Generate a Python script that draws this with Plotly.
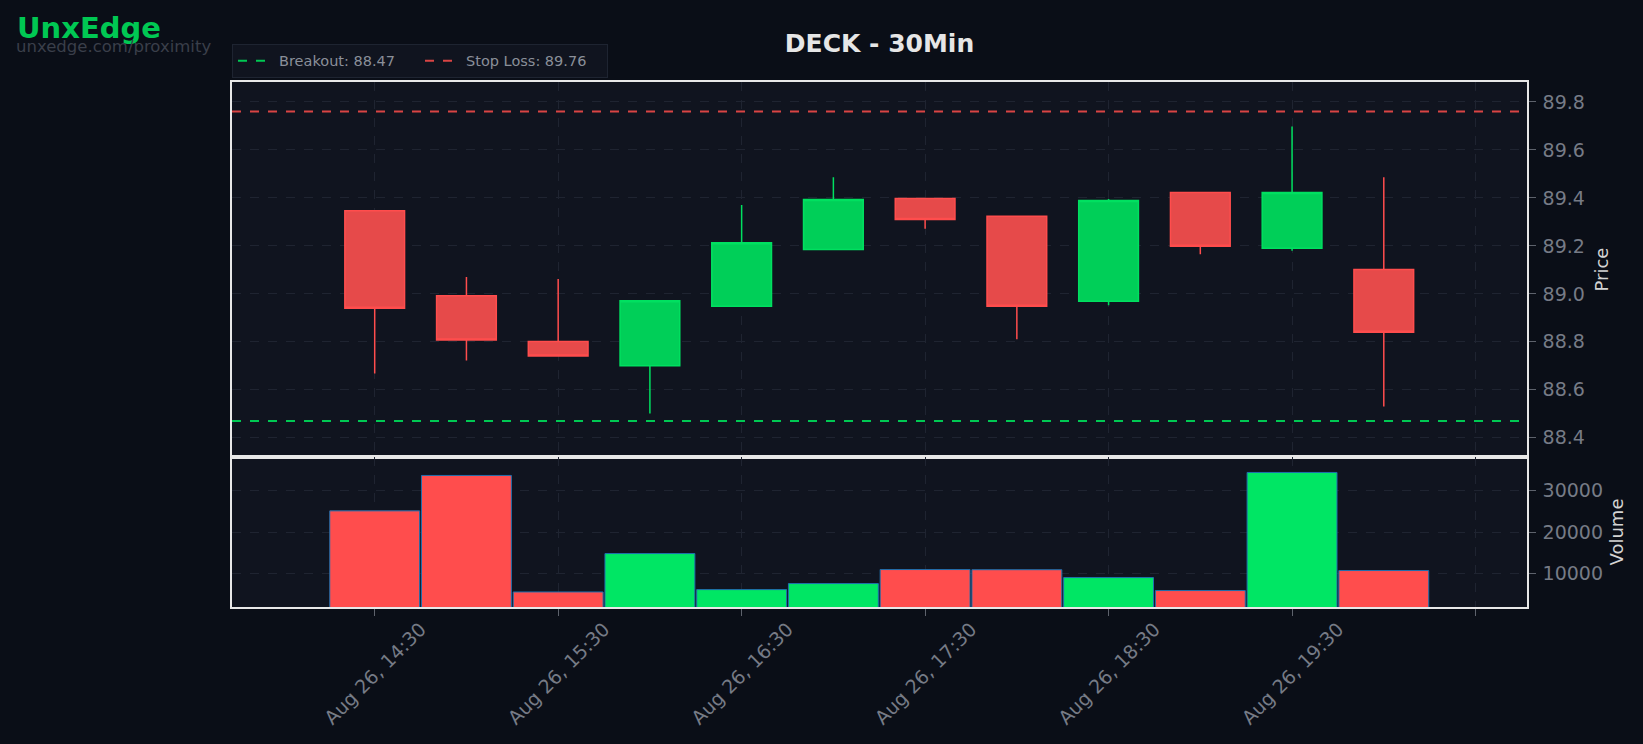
import plotly.graph_objects as go
import pandas as pd

# ---- data ----
times = pd.date_range("2025-08-26 14:30", periods=12, freq="30min")
opens = [89.346, 88.992, 88.801, 88.700, 88.948, 89.185, 89.397, 89.323, 88.969, 89.422, 89.190, 89.102]
highs = [89.346, 89.070, 89.062, 88.971, 89.370, 89.486, 89.397, 89.323, 89.395, 89.422, 89.698, 89.486]
lows = [88.668, 88.722, 88.741, 88.501, 88.948, 89.185, 89.271, 88.811, 88.952, 89.165, 89.180, 88.530]
closes = [88.940, 88.808, 88.741, 88.971, 89.213, 89.393, 89.310, 88.948, 89.389, 89.198, 89.422, 88.840]
volumes = [25100, 33650, 5530, 14800, 6100, 7560, 10940, 10900, 9000, 5870, 34370, 10700]

breakout = 88.47
stop_loss = 89.76

tick_vals = pd.date_range("2025-08-26 14:30", periods=7, freq="60min")
tick_text = ["Aug 26, 14:30", "Aug 26, 15:30", "Aug 26, 16:30", "Aug 26, 17:30",
             "Aug 26, 18:30", "Aug 26, 19:30", ""]
x_range = ["2025-08-26 13:43:20", "2025-08-26 20:46:50"]
price_range = [88.32, 89.883]
vol_range = [1900, 38100]

title_text = "DECK - 30Min"
brand = "UnxEdge"
brand_url = "unxedge.com/proximity"

# ---- styles ----
GREEN_FILL = "#00cf58"
GREEN_LINE = "#00e060"
RED_FILL = "#e64a4a"
RED_LINE = "#ff4d4d"
PAPER = "#0a0e17"
PLOT = "#10141f"
GRID = "#1f2431"
TICKC = "#767b86"
FONT = "DejaVu Sans"

vol_colors = ["#00e664" if c >= o else "#ff4d4d" for o, c in zip(opens, closes)]

fig = go.Figure()

fig.add_trace(go.Candlestick(
    x=times, open=opens, high=highs, low=lows, close=closes,
    increasing=dict(fillcolor=GREEN_FILL, line=dict(color=GREEN_LINE, width=1.5)),
    decreasing=dict(fillcolor=RED_FILL, line=dict(color=RED_LINE, width=1.5)),
    showlegend=False, xaxis="x", yaxis="y",
))

fig.add_trace(go.Scatter(
    x=[x_range[0], x_range[1]], y=[breakout, breakout], mode="lines",
    line=dict(color="#00c853", width=2, dash="dash"),
    name=f"Breakout: {breakout:.2f}", xaxis="x", yaxis="y",
))
fig.add_trace(go.Scatter(
    x=[x_range[0], x_range[1]], y=[stop_loss, stop_loss], mode="lines",
    line=dict(color="#d94444", width=2, dash="dash"),
    name=f"Stop Loss: {stop_loss:.2f}", xaxis="x", yaxis="y",
))

fig.add_trace(go.Bar(
    x=times, y=volumes, marker=dict(color=vol_colors, line=dict(color="#1f6fae", width=1)),
    showlegend=False, xaxis="x2", yaxis="y2",
))

axis_common = dict(
    showline=True, linecolor="#e8e8e8", linewidth=1.5, mirror=True,
    gridcolor=GRID, griddash="dash", zeroline=False,
    tickfont=dict(family=FONT, size=19, color=TICKC),
    ticks="outside", tickcolor="#5d626c", ticklen=7,
)

x_common = dict(domain=[0, 1], range=x_range, type="date",
                tickvals=tick_vals, ticktext=tick_text)

fig.update_layout(
    width=1643, height=744,
    paper_bgcolor=PAPER, plot_bgcolor=PLOT,
    margin=dict(l=232, r=116, t=82, b=137),
    font=dict(family=FONT, color=TICKC),
    bargap=0.02,
    boxgap=0.07,
    title=dict(text=f"<b>{title_text}</b>", x=0.5, xref="paper", xanchor="center",
               y=1 - 43 / 744, yref="container", yanchor="middle",
               font=dict(family=FONT, size=25, color="#e6e6e6")),
    showlegend=True,
    legend=dict(orientation="h", x=0, xanchor="left", y=1.008, yanchor="bottom",
                bgcolor="#10141f", bordercolor="#1e2431", borderwidth=1,
                itemwidth=36, entrywidth=136,
                font=dict(family=FONT, size=14.5, color="#8a8f99")),
    xaxis=dict(axis_common, **x_common, anchor="y", showticklabels=False,
               rangeslider=dict(visible=False), matches="x2"),
    xaxis2=dict(axis_common, **x_common, anchor="y2", tickangle=-45,
                ticklabelshift=46, ticklabelstandoff=-5),
    yaxis=dict(axis_common, domain=[0.2857, 1], range=price_range, side="right",
               dtick=0.2, tick0=88.4, tickformat=".1f", ticklabelstandoff=3,
               title=dict(text="Price", standoff=12,
                          font=dict(family=FONT, size=18, color="#d4d4d4"))),
    yaxis2=dict(axis_common, domain=[0, 0.2857], range=vol_range, side="right",
                dtick=10000, tick0=0, tickformat="d", ticklabelstandoff=3,
                title=dict(text="Volume", standoff=8,
                           font=dict(family=FONT, size=18, color="#d4d4d4"))),
    annotations=[
        dict(text=f"<b>{brand}</b>", xref="paper", yref="paper",
             x=-(232 - 15) / 1295, y=(607 - 28) / 525, xanchor="left", yanchor="middle",
             showarrow=False, font=dict(family=FONT, size=29, color="#00c853")),
        dict(text=brand_url, xref="paper", yref="paper",
             x=-(232 - 14) / 1295, y=(607 - 46) / 525, xanchor="left", yanchor="middle",
             showarrow=False, font=dict(family=FONT, size=16.5, color="#3a3f4a")),
    ],
)

fig.write_html(
    "out.html",
    config={"displayModeBar": False},
    post_script="document.body.style.margin='0';document.body.style.background='#0a0e17';",
)
